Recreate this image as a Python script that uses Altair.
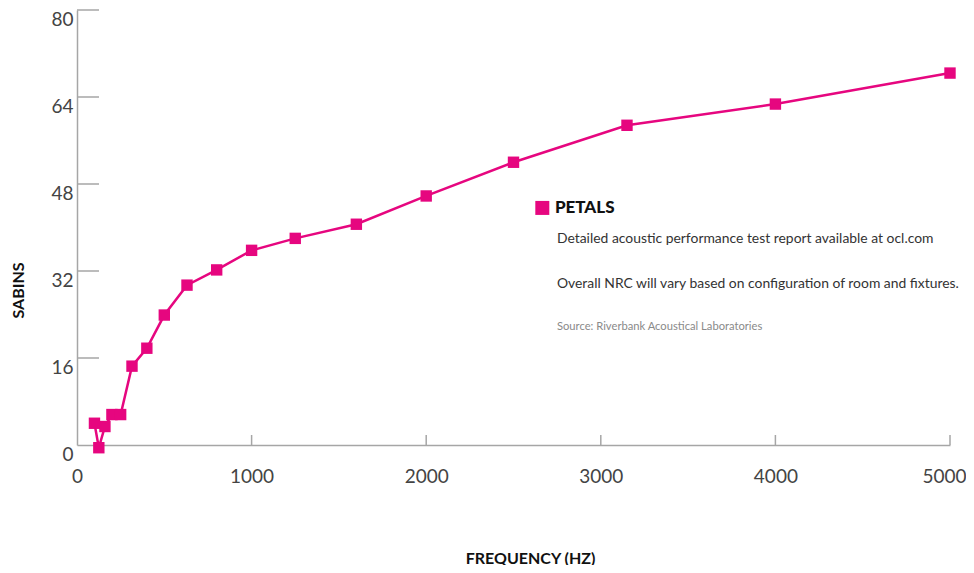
import altair as alt
import pandas as pd

frequency = [100, 125, 160, 200, 250, 315, 400, 500, 630, 800, 1000, 1250,
             1600, 2000, 2500, 3150, 4000, 5000]
sabins = [4.0, -0.5, 3.4, 5.6, 5.6, 14.5, 17.8, 23.9, 29.4, 32.2, 35.8, 38.0,
          40.6, 45.8, 52.0, 58.8, 62.7, 68.4]
y_ticks = [16, 32, 48, 64, 80]
x_ticks = [1000, 2000, 3000, 4000, 5000]
series_name = "PETALS"
notes = ["Detailed acoustic performance test report available at ocl.com",
         "Overall NRC will vary based on configuration of room and fixtures."]
source = "Source: Riverbank Acoustical Laboratories"

PINK = "#e6067f"
FONT = "Lato"
W, H = 873, 435

df = pd.DataFrame({"freq": frequency, "sabins": sabins})

xs = alt.Scale(domain=[0, 5000], nice=False)
ys = alt.Scale(domain=[0, 80], nice=False)

last_test = "datum.value === 5000"
x_axis = alt.Axis(values=[0] + x_ticks, format="d", ticks=False, grid=False,
                  labelFont=FONT, labelFontSize=19, labelColor="#444",
                  labelPadding=22, labelFlush=False,
                  labelAlign={"condition": {"test": last_test, "value": "right"},
                              "value": "center"},
                  labelOffset={"condition": {"test": last_test, "value": 16},
                               "value": 0},
                  domainColor="#a6a6a6", domainWidth=1.5,
                  title="FREQUENCY (HZ)", titleFont=FONT, titleFontSize=16,
                  titleFontWeight="bold", titleColor="#111",
                  titleX=453, titleY=113, titleBaseline="middle")
y_axis = alt.Axis(values=[0] + y_ticks, ticks=False, grid=False,
                  labelFont=FONT, labelFontSize=19, labelColor="#444",
                  labelBaseline="top", labelOffset=0, labelPadding=4,
                  labelFlush=False,
                  domainColor="#a6a6a6", domainWidth=1.5,
                  title="SABINS", titleFont=FONT, titleFontSize=16,
                  titleFontWeight="bold", titleColor="#111",
                  titleX=-59, titleY=280, titleBaseline="middle")

line = alt.Chart(df).mark_line(color=PINK, strokeWidth=2.5).encode(
    x=alt.X("freq:Q", scale=xs, axis=x_axis),
    y=alt.Y("sabins:Q", scale=ys, axis=y_axis),
)
pts = alt.Chart(df).mark_point(shape="square", filled=True, opacity=1,
                               color=PINK, size=130).encode(
    x=alt.X("freq:Q", scale=xs), y=alt.Y("sabins:Q", scale=ys))

ytk = alt.Chart(pd.DataFrame({"v": y_ticks})).mark_rule(
    color="#a6a6a6", strokeWidth=1.5).encode(
    y=alt.Y("v:Q", scale=ys), x=alt.value(0), x2=alt.value(22))
xtk = alt.Chart(pd.DataFrame({"v": x_ticks})).mark_rule(
    color="#a6a6a6", strokeWidth=1.5).encode(
    x=alt.X("v:Q", scale=xs), y=alt.value(H - 10), y2=alt.value(H))

# annotation block (legend + notes), positioned in data units
leg_sq = alt.Chart(pd.DataFrame({"f": [2665], "s": [43.6]})).mark_point(
    shape="square", filled=True, opacity=1, color=PINK, size=196).encode(
    x=alt.X("f:Q", scale=xs), y=alt.Y("s:Q", scale=ys))
leg_txt = alt.Chart(pd.DataFrame({"f": [2737], "s": [43.6], "t": [series_name]})).mark_text(
    align="left", baseline="middle", font=FONT, fontSize=17, fontWeight=900,
    color="#111").encode(x=alt.X("f:Q", scale=xs), y=alt.Y("s:Q", scale=ys), text="t:N")
note_txt = alt.Chart(pd.DataFrame({"f": [2749, 2749], "s": [37.8, 29.6], "t": notes})).mark_text(
    align="left", baseline="middle", font=FONT, fontSize=13.9, color="#333").encode(
    x=alt.X("f:Q", scale=xs), y=alt.Y("s:Q", scale=ys), text="t:N")
src_txt = alt.Chart(pd.DataFrame({"f": [2749], "s": [21.7], "t": [source]})).mark_text(
    align="left", baseline="middle", font=FONT, fontSize=11.2, color="#8a8a8a").encode(
    x=alt.X("f:Q", scale=xs), y=alt.Y("s:Q", scale=ys), text="t:N")

chart = alt.layer(line, pts, ytk, xtk, leg_sq, leg_txt, note_txt, src_txt).properties(
    width=W, height=H,
    background="white",
    autosize=alt.AutoSizeParams(type="none"),
    padding={"left": 69, "top": 2, "right": 16, "bottom": 120},
).configure_view(stroke="transparent", strokeWidth=0)

chart.save("out.html", embed_options={"renderer": "svg", "actions": False})
